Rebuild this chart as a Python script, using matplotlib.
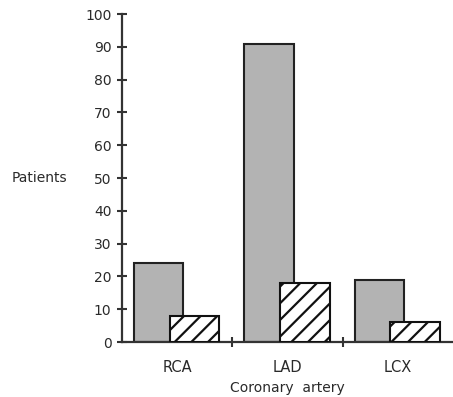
import numpy as np
import matplotlib.pyplot as plt
from matplotlib.ticker import FixedLocator

# Values
arteries = ["RCA", "LAD", "LCX"]
gray_vals = [24, 91, 19]
hatched_vals = [8, 18, 6]

plt.rcParams["font.family"] = ["DejaVu Sans"]
plt.rcParams["hatch.linewidth"] = 1.6
plt.rcParams["hatch.color"] = "#111111"

fig = plt.figure(figsize=(4.53, 3.97), dpi=100)
ax = fig.add_axes([0.269, 0.1385, 0.731, 0.8262])

x = np.arange(len(arteries))
w = 0.45
ax.bar(x + 0.333, gray_vals, width=w, color="#b3b3b3", edgecolor="#222222",
       linewidth=1.5, zorder=2)
ax.bar(x + 0.657, hatched_vals, width=w, color="white", edgecolor="#111111",
       hatch="//", linewidth=1.5, zorder=3)

ax.set_xlim(0, 3)
ax.set_ylim(0, 100)
ax.set_yticks(np.arange(0, 101, 10))
ax.set_xticks(x + 0.5)
ax.set_xticklabels(arteries)
ax.xaxis.set_minor_locator(FixedLocator([1, 2]))

for s in ["top", "right"]:
    ax.spines[s].set_visible(False)
for s in ["left", "bottom"]:
    ax.spines[s].set_linewidth(1.6)
    ax.spines[s].set_color("#333333")

ax.tick_params(axis="y", direction="inout", length=7, width=1.5,
               color="#333333", labelsize=10, labelcolor="#2a2a2a", pad=4)
ax.tick_params(axis="x", which="major", length=0, labelsize=10.5,
               labelcolor="#2a2a2a", pad=13)
ax.tick_params(axis="x", which="minor", direction="inout", length=7,
               width=1.5, color="#333333")

ax.set_ylabel("Patients", rotation=0, fontsize=10, color="#2a2a2a",
              ha="center", va="center")
ax.yaxis.set_label_coords(-0.248, 0.5)
ax.set_xlabel("Coronary  artery", fontsize=10, color="#2a2a2a", labelpad=4)

fig.savefig("out.png", dpi=100)
